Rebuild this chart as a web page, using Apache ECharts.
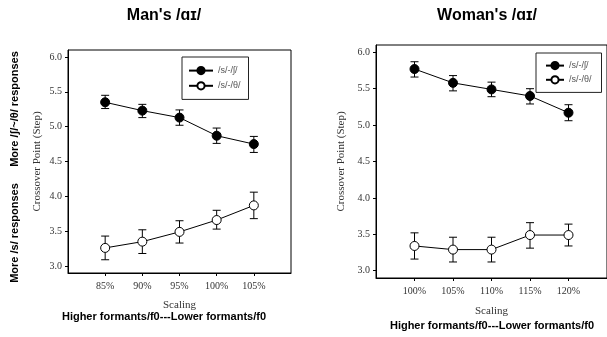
<!DOCTYPE html>
<html>
<head>
<meta charset="utf-8">
<script src="https://cdn.jsdelivr.net/npm/echarts@6/dist/echarts.min.js"></script>
<style>html,body{margin:0;padding:0;background:#fff}#c{width:607px;height:337px}</style>
</head>
<body>
<div id="c"></div>
<script>
// ---- data ----
const manScaling = [85, 90, 95, 100, 105];
const manSh = [5.35, 5.23, 5.13, 4.87, 4.75];
const manShHi = [5.45, 5.32, 5.24, 4.98, 4.86];
const manShLo = [5.26, 5.13, 5.02, 4.76, 4.63];
const manTh = [3.26, 3.35, 3.49, 3.66, 3.87];
const manThHi = [3.43, 3.52, 3.65, 3.80, 4.06];
const manThLo = [3.09, 3.18, 3.33, 3.53, 3.68];

const womanScaling = [100, 105, 110, 115, 120];
const womanSh = [5.77, 5.58, 5.49, 5.40, 5.17];
const womanShHi = [5.87, 5.68, 5.59, 5.50, 5.28];
const womanShLo = [5.66, 5.47, 5.39, 5.29, 5.06];
const womanTh = [3.34, 3.29, 3.29, 3.49, 3.49];
const womanThHi = [3.52, 3.46, 3.46, 3.66, 3.64];
const womanThLo = [3.16, 3.12, 3.12, 3.31, 3.34];

const yTicks = [3.0, 3.5, 4.0, 4.5, 5.0, 5.5, 6.0];
const seriesNames = ['/s/-/ʃ/', '/s/-/θ/'];

const serif = '"Liberation Serif","Times New Roman",serif';
const sans = '"Liberation Sans",Arial,sans-serif';

function pairs(xs, ys) { return xs.map((x, i) => [x, ys[i]]); }
function errData(xs, lo, hi) { return xs.map((x, i) => [x, lo[i], hi[i]]); }

function errSeries(idx, xs, lo, hi) {
  return {
    type: 'custom', xAxisIndex: idx, yAxisIndex: idx, silent: true, z: 1,
    data: errData(xs, lo, hi),
    renderItem: function (params, api) {
      const x = api.value(0);
      const p1 = api.coord([x, api.value(1)]);
      const p2 = api.coord([x, api.value(2)]);
      const w = 4;
      const st = { stroke: '#000', lineWidth: 1 };
      return {
        type: 'group', children: [
          { type: 'line', shape: { x1: p1[0], y1: p1[1], x2: p2[0], y2: p2[1] }, style: st },
          { type: 'line', shape: { x1: p1[0] - w, y1: p1[1], x2: p1[0] + w, y2: p1[1] }, style: st },
          { type: 'line', shape: { x1: p2[0] - w, y1: p2[1], x2: p2[0] + w, y2: p2[1] }, style: st }
        ]
      };
    }
  };
}

function lineSeries(idx, name, xs, ys, filled) {
  return {
    type: 'line', name: name, xAxisIndex: idx, yAxisIndex: idx, z: 3,
    data: pairs(xs, ys),
    symbol: 'circle', symbolSize: 9, showAllSymbol: true,
    lineStyle: { color: '#000', width: 1 },
    itemStyle: { color: filled ? '#000' : '#fff', borderColor: '#000', borderWidth: 1 },
    emphasis: { disabled: true },
    animation: false
  };
}

function xAxis(idx, min, max, vals, gap) {
  return {
    type: 'value', gridIndex: idx, min: min, max: max,
    name: 'Scaling', nameLocation: 'middle', nameGap: gap,
    nameTextStyle: { fontFamily: serif, fontSize: 11, color: '#333' },
    axisLine: { show: true, lineStyle: { color: '#000', width: 1 } },
    axisTick: { show: true, customValues: vals, length: 3, lineStyle: { color: '#000' } },
    axisLabel: { customValues: vals, formatter: v => v + '%', fontFamily: serif, fontSize: 10, color: '#333', margin: 8 },
    splitLine: { show: false }
  };
}

function yAxis(idx, gap) {
  return {
    type: 'value', gridIndex: idx, min: 2.9, max: 6.1,
    name: 'Crossover Point (Step)', nameLocation: 'middle', nameGap: gap,
    nameTextStyle: { fontFamily: serif, fontSize: 11, color: '#333' },
    axisLine: { show: true, lineStyle: { color: '#000', width: 1 } },
    axisTick: { show: true, customValues: yTicks, length: 3, lineStyle: { color: '#000' } },
    axisLabel: { customValues: yTicks, formatter: v => v.toFixed(1), fontFamily: serif, fontSize: 10, color: '#333', margin: 6 },
    splitLine: { show: false }
  };
}

const chart = echarts.init(document.getElementById('c'), null, { renderer: 'canvas' });
chart.setOption({
  animation: false,
  backgroundColor: '#fff',
  grid: [
    { left: 68, top: 50, width: 223, height: 223, show: true, borderColor: '#000', borderWidth: 1, backgroundColor: 'transparent' },
    { left: 376, top: 45, width: 234, height: 233, show: true, borderColor: '#000', borderWidth: 1, backgroundColor: 'transparent' }
  ],
  xAxis: [xAxis(0, 80, 110, manScaling, 27), xAxis(1, 95, 125, womanScaling, 28)],
  yAxis: [yAxis(0, 25), yAxis(1, 29)],
  legend: [
    {
      left: 182, top: 57, orient: 'vertical', data: seriesNames,
      padding: [9, 8, 9, 6], itemWidth: 24, itemHeight: 9, itemGap: 6,
      borderColor: '#222', borderWidth: 1, backgroundColor: '#fff',
      textStyle: { fontFamily: sans, fontSize: 9, color: '#555' },
      selectedMode: false
    },
    {
      left: 536, top: 53, orient: 'vertical', data: seriesNames,
      padding: [8, 10, 8, 9], itemWidth: 18, itemHeight: 9, itemGap: 5,
      borderColor: '#222', borderWidth: 1, backgroundColor: '#fff',
      textStyle: { fontFamily: sans, fontSize: 9, color: '#555' },
      selectedMode: false
    }
  ],
  series: [
    errSeries(0, manScaling, manShLo, manShHi),
    errSeries(0, manScaling, manThLo, manThHi),
    lineSeries(0, seriesNames[0], manScaling, manSh, true),
    lineSeries(0, seriesNames[1], manScaling, manTh, false),
    errSeries(1, womanScaling, womanShLo, womanShHi),
    errSeries(1, womanScaling, womanThLo, womanThHi),
    lineSeries(1, seriesNames[0], womanScaling, womanSh, true),
    lineSeries(1, seriesNames[1], womanScaling, womanTh, false)
  ],
  graphic: [
    { type: 'text', x: 164, y: 16, style: { text: "Man's /ɑɪ/", font: 'bold 16px ' + sans, fill: '#000', textAlign: 'center', textVerticalAlign: 'middle' } },
    { type: 'text', x: 487, y: 16, style: { text: "Woman's /ɑɪ/", font: 'bold 16px ' + sans, fill: '#000', textAlign: 'center', textVerticalAlign: 'middle' } },
    { type: 'text', x: 15, y: 109, rotation: Math.PI / 2, style: { text: 'More /ʃ/~/θ/ responses', font: 'bold 11px ' + sans, fill: '#000', textAlign: 'center', textVerticalAlign: 'middle' } },
    { type: 'text', x: 15, y: 233, rotation: Math.PI / 2, style: { text: 'More /s/ responses', font: 'bold 11px ' + sans, fill: '#000', textAlign: 'center', textVerticalAlign: 'middle' } },
    { type: 'text', x: 164, y: 317, style: { text: 'Higher formants/f0---Lower formants/f0', font: 'bold 11px ' + sans, fill: '#000', textAlign: 'center', textVerticalAlign: 'middle' } },
    { type: 'text', x: 492, y: 326, style: { text: 'Higher formants/f0---Lower formants/f0', font: 'bold 11px ' + sans, fill: '#000', textAlign: 'center', textVerticalAlign: 'middle' } }
  ]
});
</script>
</body>
</html>
